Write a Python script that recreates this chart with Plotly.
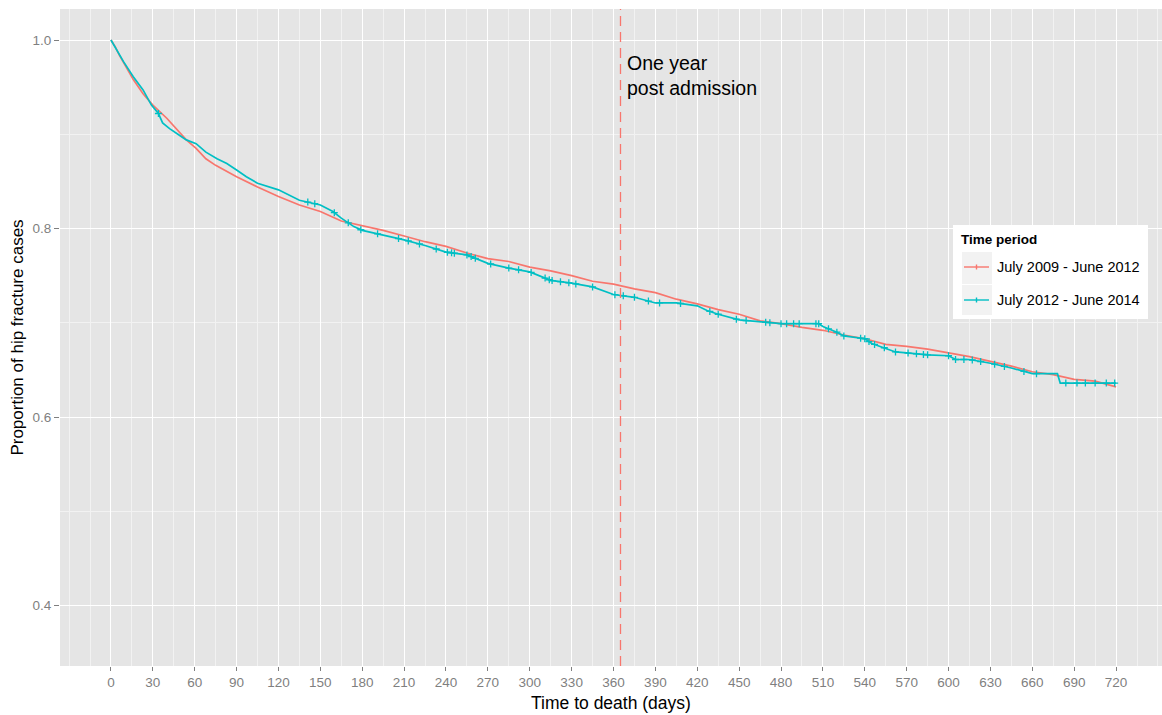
import numpy as np
import plotly.graph_objects as go

# ---------------- data ----------------
series_names = ["July 2009 - June 2012", "July 2012 - June 2014"]
series_colors = ["#F8766D", "#00BFC4"]

t_2009 = [0, 3, 6, 10, 16, 23, 30, 40, 47, 54, 61, 68, 75, 90, 105, 120, 135, 150, 165, 180,
          195, 210, 225, 240, 255, 270, 285, 300, 315, 330, 345, 360, 375, 390, 405, 420, 435,
          450, 465, 480, 495, 510, 525, 540, 555, 570, 585, 600, 615, 630, 645, 660, 675, 690,
          705, 720]
s_2009 = [1.0, 0.993, 0.984, 0.974, 0.958, 0.943, 0.931, 0.917, 0.905, 0.894, 0.885, 0.874,
          0.867, 0.855, 0.844, 0.834, 0.825, 0.818, 0.808, 0.803, 0.798, 0.792, 0.786, 0.781,
          0.774, 0.768, 0.765, 0.759, 0.755, 0.750, 0.744, 0.741, 0.736, 0.732, 0.725, 0.720,
          0.714, 0.709, 0.702, 0.699, 0.695, 0.692, 0.687, 0.683, 0.677, 0.675, 0.672, 0.668,
          0.664, 0.659, 0.654, 0.648, 0.645, 0.640, 0.638, 0.632]

t_2012 = [0, 3, 9, 16, 23, 29, 34, 37, 42, 49, 54, 61, 68, 76, 83, 90, 97, 105, 120, 135, 150,
          159, 165, 174, 180, 195, 210, 225, 240, 255, 270, 285, 300, 315, 330, 345, 360, 375,
          390, 405, 420, 427, 435, 450, 465, 480, 495, 507, 510, 520, 525, 540, 545, 555, 562,
          570, 585, 600, 605, 615, 630, 645, 660, 678, 680, 720]
s_2012 = [1.0, 0.992, 0.977, 0.961, 0.947, 0.931, 0.922, 0.912, 0.906, 0.899, 0.894, 0.890,
          0.881, 0.874, 0.869, 0.862, 0.855, 0.848, 0.841, 0.830, 0.825, 0.818, 0.811, 0.802,
          0.798, 0.793, 0.788, 0.782, 0.775, 0.772, 0.763, 0.758, 0.754, 0.745, 0.742, 0.738,
          0.730, 0.727, 0.721, 0.721, 0.718, 0.713, 0.709, 0.703, 0.701, 0.699, 0.699, 0.699,
          0.696, 0.690, 0.686, 0.683, 0.678, 0.673, 0.669, 0.668, 0.666, 0.665, 0.661, 0.661,
          0.657, 0.652, 0.646, 0.646, 0.636, 0.636]

# censoring times (the "+" marks) on the 2012-2014 curve
censor_2012 = [34, 141, 146, 160, 170, 179, 191, 206, 213, 221, 233, 241, 244, 246, 255, 258,
               261, 272, 285, 292, 301, 311, 314, 316, 322, 328, 333, 345, 361, 367, 375, 385,
               393, 408, 429, 435, 448, 455, 469, 472, 480, 484, 489, 493, 505, 507, 514, 520,
               525, 537, 540, 543, 547, 554, 562, 571, 577, 582, 585, 600, 605, 611, 617, 623,
               633, 640, 654, 663, 684, 692, 698, 705, 713, 719]

x_ticks = list(range(0, 721, 30))
y_ticks = [0.4, 0.6, 0.8, 1.0]
y_ticktext = ["0.4", "0.6", "0.8", "1.0"]
one_year = 365

# ---------------- figure ----------------
W, H = 1162, 715
ML, MR, MT, MB = 60, 0, 9, 49
FONT = "Liberation Sans, Arial, sans-serif"

fig = go.Figure()
for t, s, name, col in [(t_2009, s_2009, series_names[0], series_colors[0]),
                        (t_2012, s_2012, series_names[1], series_colors[1])]:
    fig.add_trace(go.Scatter(x=t, y=s, mode="lines", name=name,
                             line=dict(color=col, width=1.7), showlegend=False))

cy = np.interp(censor_2012, t_2012, s_2012)
fig.add_trace(go.Scatter(x=censor_2012, y=cy, mode="markers", showlegend=False,
                         marker=dict(symbol="cross-thin", size=5, color=series_colors[1],
                                     line=dict(color=series_colors[1], width=1.3))))

fig.add_vline(x=one_year, line=dict(color="#F8766D", width=1.3, dash="10px,6px"))

fig.add_annotation(x=one_year + 3, y=0.962, xref="x", yref="y", text="One year<br>post admission",
                   showarrow=False, xanchor="left", yanchor="middle", align="left",
                   font=dict(family=FONT, size=19.5, color="#000000"))

# ---- manual ggplot-style legend (pixel positions converted to paper coords) ----
pw, ph = W - ML - MR, H - MT - MB
def px(x):
    return (x - ML) / pw
def py(y):
    return (H - MB - y) / ph

fig.add_shape(type="rect", xref="paper", yref="paper", x0=px(953), x1=px(1148),
              y0=py(319), y1=py(225), fillcolor="white", line=dict(width=0), layer="above")
fig.add_annotation(xref="paper", yref="paper", x=px(959), y=py(239), text="<b>Time period</b>",
                   showarrow=False, xanchor="left", yanchor="middle",
                   font=dict(family=FONT, size=13.5, color="#000000"))
key_rows = [(252, 284, 267), (285, 315, 300)]
for (ya, yb, yc), name, col in zip(key_rows, series_names, series_colors):
    fig.add_shape(type="rect", xref="paper", yref="paper", x0=px(962), x1=px(992),
                  y0=py(yb), y1=py(ya), fillcolor="#F2F2F2", line=dict(width=0), layer="above")
    fig.add_shape(type="line", xref="paper", yref="paper", x0=px(964), x1=px(989),
                  y0=py(yc), y1=py(yc), line=dict(color=col, width=1.4), layer="above")
    fig.add_shape(type="line", xref="paper", yref="paper", x0=px(976.5), x1=px(976.5),
                  y0=py(yc + 2.5), y1=py(yc - 2.5), line=dict(color=col, width=1.4), layer="above")
    fig.add_annotation(xref="paper", yref="paper", x=px(995), y=py(yc), text=name,
                       showarrow=False, xanchor="left", yanchor="middle",
                       font=dict(family=FONT, size=14.5, color="#000000"))

fig.update_layout(
    width=W, height=H,
    margin=dict(l=ML, r=MR, t=MT, b=MB, autoexpand=False),
    paper_bgcolor="white", plot_bgcolor="#E5E5E5",
    font=dict(family=FONT),
    showlegend=False,
)
fig.update_xaxes(
    automargin=False,
    range=[-36.5, 752.9], tickmode="array", tickvals=x_ticks,
    ticks="outside", ticklen=4, tickwidth=1, tickcolor="#7F7F7F",
    tickfont=dict(family=FONT, size=13.5, color="#7F7F7F"),
    showgrid=True, gridcolor="white", gridwidth=1.2, zeroline=False, showline=False,
    minor=dict(tick0=0, dtick=15, showgrid=True, gridcolor="#F2F2F2", gridwidth=0.6, ticks=""),
    title=dict(text="Time to death (days)", font=dict(family=FONT, size=17.5, color="#000000"),
               standoff=7),
)
fig.update_yaxes(
    automargin=False,
    range=[0.3358, 1.0329], tickmode="array", tickvals=y_ticks, ticktext=y_ticktext,
    ticks="outside", ticklen=5, tickwidth=1, tickcolor="#7F7F7F",
    tickfont=dict(family=FONT, size=13.5, color="#7F7F7F"),
    showgrid=True, gridcolor="white", gridwidth=1.2, zeroline=False, showline=False,
    minor=dict(tick0=0, dtick=0.1, showgrid=True, gridcolor="#F2F2F2", gridwidth=0.6, ticks=""),
    title=dict(text="Proportion of hip fracture cases",
               font=dict(family=FONT, size=17, color="#000000"), standoff=4),
)

fig.write_html("out.html", config={"displayModeBar": False},
               post_script="document.body.style.margin='0px';document.body.style.overflow='hidden';")
